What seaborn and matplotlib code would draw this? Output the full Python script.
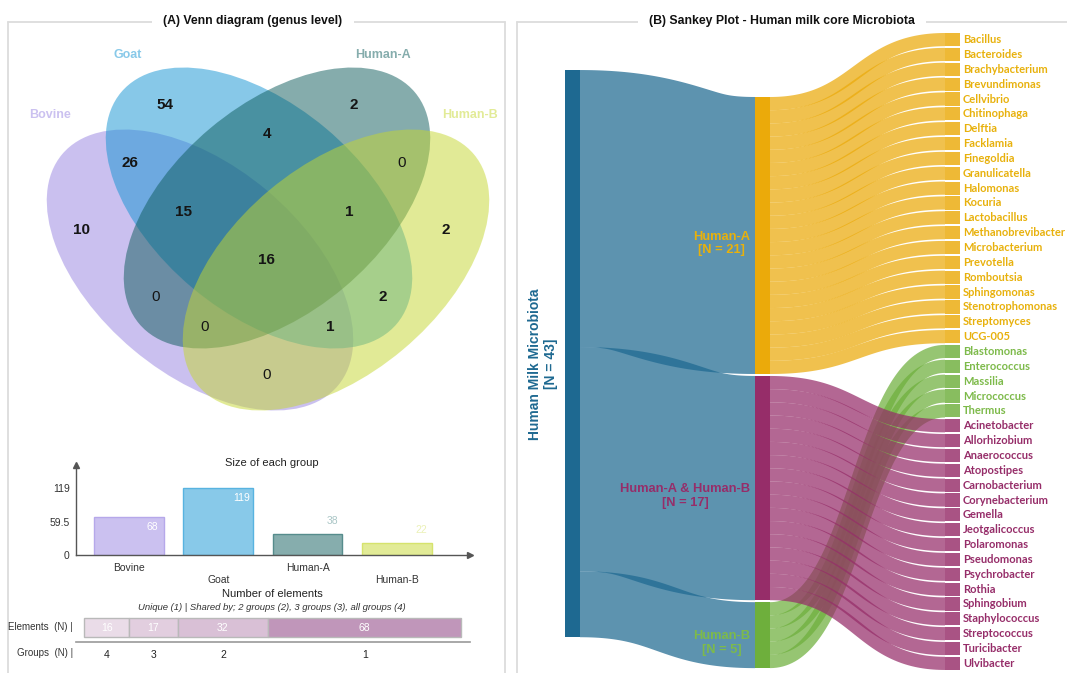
import numpy as np
import pandas as pd
import matplotlib
matplotlib.use("Agg")
import matplotlib.pyplot as plt
from matplotlib.patches import Ellipse, Rectangle
import matplotlib.colors as mcolors
import seaborn as sns

# ---------------- data ----------------
groups = ["Bovine", "Goat", "Human-A", "Human-B"]
group_sizes = [68, 119, 38, 22]

# Venn region counts; each region named by the sets that share it
venn_regions = ["B", "G", "HA", "HB", "B&G", "G&HA", "HA&HB", "B&G&HA",
                "G&HA&HB", "B&G&HA&HB", "B&HA", "G&HB", "B&HA&HB", "B&G&HB", "B&HB"]
venn_counts = [10, 54, 2, 2, 26, 4, 0, 15, 1, 16, 0, 2, 0, 1, 0]

shared_counts = [16, 17, 32, 68]
shared_groups = [4, 3, 2, 1]

core_label = "Human Milk Microbiota"
genera_human_a = ["Bacillus", "Bacteroides", "Brachybacterium", "Brevundimonas", "Cellvibrio",
                  "Chitinophaga", "Delftia", "Facklamia", "Finegoldia", "Granulicatella",
                  "Halomonas", "Kocuria", "Lactobacillus", "Methanobrevibacter", "Microbacterium",
                  "Prevotella", "Romboutsia", "Sphingomonas", "Stenotrophomonas", "Streptomyces",
                  "UCG-005"]
genera_human_b = ["Blastomonas", "Enterococcus", "Massilia", "Micrococcus", "Thermus"]
genera_shared = ["Acinetobacter", "Allorhizobium", "Anaerococcus", "Atopostipes", "Carnobacterium",
                 "Corynebacterium", "Gemella", "Jeotgalicoccus", "Polaromonas", "Pseudomonas",
                 "Psychrobacter", "Rothia", "Sphingobium", "Staphylococcus", "Streptococcus",
                 "Turicibacter", "Ulvibacter"]

# ---------------- style ----------------
sns.set_style("white")
plt.rcParams["font.family"] = ["Liberation Sans", "DejaVu Sans"]

W, H = 1067, 673
fig = plt.figure(figsize=(W / 100, H / 100), dpi=100)


def mix(color, amount):
    """Blend a colour with white (amount = share of the colour)."""
    rgb = np.array(mcolors.to_rgb(color))
    return tuple(rgb * amount + (1 - amount))


set_colors = {"Bovine": "#9783E1", "Goat": "#1193D3", "Human-A": "#0D5B5B", "Human-B": "#C5D72F"}

# ---------------- canvas for frames and Venn ----------------
ax_bg = fig.add_axes([0, 0, 1, 1])
ax_bg.set_xlim(0, W)
ax_bg.set_ylim(H, 0)
ax_bg.axis("off")

frame_kw = dict(color="#DCDCDC", lw=1.3, zorder=0)
ax_bg.plot([8, 505], [22, 22], **frame_kw)
ax_bg.plot([8, 8], [22, H], **frame_kw)
ax_bg.plot([505, 505], [22, H], **frame_kw)
ax_bg.plot([517, W], [22, 22], **frame_kw)
ax_bg.plot([517, 517], [22, H], **frame_kw)

title_kw = dict(ha="center", va="center", fontsize=8.8, fontweight="bold", color="#111111",
                bbox=dict(boxstyle="square,pad=0.9", fc="white", ec="none"), zorder=2)
ax_bg.text(253, 21, "(A) Venn diagram (genus level)", **title_kw)
ax_bg.text(782, 21, "(B) Sankey Plot - Human milk core Microbiota", **title_kw)

# Venn ellipses: centre x, centre y, rotation
venn_layout = {"Bovine": (200, 270, 40), "Goat": (259, 208, 40),
               "Human-A": (277, 208, -40), "Human-B": (336, 270, -40)}
for g in groups:
    cx, cy, ang = venn_layout[g]
    ax_bg.add_patch(Ellipse((cx, cy), 360, 208, angle=ang, fc=set_colors[g],
                            ec="none", alpha=0.5, zorder=1))

set_label_pos = {"Bovine": (50, 115), "Goat": (128, 55), "Human-A": (383, 55), "Human-B": (470, 115)}
for g in groups:
    x, y = set_label_pos[g]
    ax_bg.text(x, y, g, ha="center", va="center", fontsize=9, fontweight="bold",
               color=mix(set_colors[g], 0.5))

region_pos = [(82, 230), (165, 105), (354, 105), (446, 230), (130, 163), (267, 134),
              (402, 163), (184, 212), (349, 212), (266, 260), (156, 297), (383, 297),
              (205, 327), (330, 327), (267, 375)]
for (x, y), n in zip(region_pos, venn_counts):
    ax_bg.text(x, y, str(n), ha="center", va="center", fontsize=11,
               fontweight="bold" if n > 0 else "normal", color="#151515")

# ---------------- size of each group ----------------
ax_bar = fig.add_axes([76 / W, (H - 555) / H, 394 / W, 90 / H])
ax_bar.patch.set_alpha(0)
df_sizes = pd.DataFrame({"group": groups, "size": group_sizes})
fills = [mix(set_colors[g], 0.5) for g in groups]
edges = [mix(set_colors[g], 0.7) for g in groups]
sns.barplot(data=df_sizes, x="group", y="size", hue="group", palette=fills, saturation=1,
            width=0.78, legend=False, ax=ax_bar, linewidth=1)
for patch, ec in zip(ax_bar.patches, edges):
    patch.set_edgecolor(ec)
ax_bar.set_xlim(-0.593, 3.82)
ax_bar.set_ylim(0, 160)
ax_bar.set_xlabel("")
ax_bar.set_ylabel("")
ax_bar.set_yticks([0, 59.5, 119])
ax_bar.set_yticklabels(["0", "59.5", "119"])
ax_bar.set_xticks(range(len(groups)))
ax_bar.set_xticklabels([g if i % 2 == 0 else "\n" + g for i, g in enumerate(groups)])
for s in ["top", "right"]:
    ax_bar.spines[s].set_visible(False)
for s in ["left", "bottom"]:
    ax_bar.spines[s].set_color("#555555")
    ax_bar.spines[s].set_linewidth(1)
ax_bar.tick_params(axis="y", direction="inout", length=5, width=0.8, color="#555555",
                   labelsize=7.5, labelcolor="#333333", pad=2)
ax_bar.tick_params(axis="x", direction="out", length=3, width=0.8, color="#555555",
                   labelsize=7.5, labelcolor="#333333", pad=3)
ax_bar.plot(1, 0, ">", color="#555555", ms=5, transform=ax_bar.transAxes, clip_on=False)
ax_bar.plot(0, 1, "^", color="#555555", ms=5, transform=ax_bar.transAxes, clip_on=False)
for i, v in enumerate(group_sizes):
    if v > 50:
        ax_bar.annotate(str(v), (i, v), xytext=(17, -7.5), textcoords="offset points",
                        ha="center", va="center", fontsize=7.5, color="white")
    else:
        ax_bar.annotate(str(v), (i, v), xytext=(18, 9), textcoords="offset points",
                        ha="center", va="center", fontsize=7.5, color=mix(set_colors[groups[i]], 0.35))
ax_bg.text(272, 463, "Size of each group", ha="center", va="center", fontsize=8, color="#222222")

# ---------------- number of shared elements ----------------
ax_el = fig.add_axes([76 / W, (H - 642) / H, 394 / W, 30 / H])
ax_el.patch.set_alpha(0)
lefts = np.concatenate([[0], np.cumsum(shared_counts)[:-1]])
seg_colors = [mix("#96508C", a) for a in (0.2, 0.28, 0.36, 0.6)]
ax_el.barh(0.483, shared_counts, left=lefts, height=0.633, color=seg_colors,
           edgecolor="#B9B9B9", linewidth=1)
for l, c in zip(lefts, shared_counts):
    ax_el.text(l + c / 2, 0.483, str(c), ha="center", va="center", fontsize=7.5, color="white")
ax_el.set_xlim(-8 / 2.835, 386 / 2.835)
ax_el.set_ylim(0, 1)
ax_el.set_yticks([])
ax_el.set_xticks(lefts + np.array(shared_counts) / 2)
ax_el.set_xticklabels([str(g) for g in shared_groups])
for s in ["top", "right", "left"]:
    ax_el.spines[s].set_visible(False)
ax_el.spines["bottom"].set_color("#999999")
ax_el.spines["bottom"].set_linewidth(1.2)
ax_el.tick_params(axis="x", direction="out", length=4, width=0.8, color="#777777",
                  labelsize=7.5, labelcolor="#222222", pad=2)

ax_bg.text(272, 594, "Number of elements", ha="center", va="center", fontsize=8, color="#222222")
ax_bg.text(272, 607, "Unique (1) | Shared by; 2 groups (2), 3 groups (3), all groups (4)",
           ha="center", va="center", fontsize=6.8, style="italic", color="#333333")
ax_bg.text(73, 627, "Elements  (N) |", ha="right", va="center", fontsize=7, color="#333333")
ax_bg.text(73, 653, "Groups  (N) |", ha="right", va="center", fontsize=7, color="#333333")

# ---------------- Sankey ----------------
UNIT = 13.19          # pixels per genus
COL_W = 190           # pixels between columns
ax_s = fig.add_axes([0, 0, 1, 1])
ax_s.patch.set_alpha(0)
ax_s.set_xlim(-565 / COL_W, (W - 565) / COL_W)
ax_s.set_ylim(H / UNIT, 0)
ax_s.axis("off")
NODE_W = 15 / COL_W

src_color = "#1E6991"
mid_names = ["Human-A", "Human-A & Human-B", "Human-B"]
mid_members = [genera_human_a, genera_shared, genera_human_b]
mid_colors = ["#EBAA0A", "#962D69", "#6EAF3C"]
mid_label_colors = ["#E8B10C", "#962D69", "#7DBA4A"]
mid_values = [len(m) for m in mid_members]
total = sum(mid_values)

src_top, mid_top, leaf_top = 5.31, 7.354, 2.502
mid_gap, leaf_gap = 0.15, 0.126

# leaves listed top to bottom with their parent node
leaf_order = [(g, 0) for g in genera_human_a] + [(g, 2) for g in genera_human_b] + \
             [(g, 1) for g in genera_shared]


def link_polygon(ax, x0, y0, x1, y1, width, n=90):
    """Cubic link of constant stroke thickness, outline returned in data coords."""
    t = np.linspace(0, 1, n)[:, None]
    p0 = ax.transData.transform((x0, y0))
    p3 = ax.transData.transform((x1, y1))
    xm = (p0[0] + p3[0]) / 2
    p1 = np.array([xm, p0[1]])
    p2 = np.array([xm, p3[1]])
    b = (1 - t) ** 3 * p0 + 3 * (1 - t) ** 2 * t * p1 + 3 * (1 - t) * t ** 2 * p2 + t ** 3 * p3
    d = 3 * (1 - t) ** 2 * (p1 - p0) + 6 * (1 - t) * t * (p2 - p1) + 3 * t ** 2 * (p3 - p2)
    nrm = np.column_stack([-d[:, 1], d[:, 0]])
    nrm /= np.linalg.norm(nrm, axis=1)[:, None]
    half = abs(ax.transData.transform((0, width))[1] - ax.transData.transform((0, 0))[1]) / 2
    poly = np.vstack([b + nrm * half, (b - nrm * half)[::-1]])
    return ax.transData.inverted().transform(poly)


# source -> middle links
mid_y0 = []
y_mid = mid_top
y_src = src_top
for v in mid_values:
    poly = link_polygon(ax_s, NODE_W, y_src + v / 2, 1, y_mid + v / 2, v)
    ax_s.fill(poly[:, 0], poly[:, 1], color=src_color, alpha=0.72, lw=0, zorder=1)
    mid_y0.append(y_mid)
    y_src += v
    y_mid += v + mid_gap

ax_s.add_patch(Rectangle((0, src_top), NODE_W, total, fc=src_color, ec="none", zorder=3))
for y0, v, c in zip(mid_y0, mid_values, mid_colors):
    ax_s.add_patch(Rectangle((1, y0), NODE_W, v, fc=c, ec="none", zorder=3))

# middle -> genus links (Human-B flows sit beneath the shared ones)
leaf_y0 = [leaf_top + i * (1 + leaf_gap) for i in range(len(leaf_order))]
fill_in_parent = [0, 0, 0]
link_jobs = {0: [], 1: [], 2: []}
for (name, p), ly in zip(leaf_order, leaf_y0):
    sy = mid_y0[p] + fill_in_parent[p]
    fill_in_parent[p] += 1
    link_jobs[p].append((sy, ly))
for layer, p in enumerate([0, 2, 1]):
    for sy, ly in link_jobs[p]:
        poly = link_polygon(ax_s, 1 + NODE_W, sy + 0.5, 2, ly + 0.5, 1)
        ax_s.fill(poly[:, 0], poly[:, 1], color=mid_colors[p], alpha=0.72, lw=0,
                  zorder=2 + layer * 0.1)

for (name, p), ly in zip(leaf_order, leaf_y0):
    ax_s.add_patch(Rectangle((2, ly), NODE_W, 1, fc=mid_colors[p], ec="none", alpha=0.82, zorder=3))
    ax_s.text(2 + NODE_W + 3 / COL_W, ly + 0.5, name, ha="left", va="center", fontsize=8,
              fontweight="bold", family=["Lato", "DejaVu Sans"], color=mid_label_colors[p], zorder=4)

for y0, v, name, c in zip(mid_y0, mid_values, mid_names, mid_label_colors):
    ax_s.text(1 - 5 / COL_W, y0 + v / 2 + 0.6, f"{name}\n[N = {v}]", ha="right", va="center",
              multialignment="center", fontsize=9.3, fontweight="bold", color=c, zorder=4,
              linespacing=1.15)

ax_s.text(-22 / COL_W, src_top + total / 2 + 0.8, f"{core_label}\n[N = {total}]", rotation=90,
          ha="center", va="center", multialignment="center", fontsize=10, fontweight="bold",
          color=src_color, linespacing=1.1, zorder=4)

fig.savefig("out.png", dpi=100)
